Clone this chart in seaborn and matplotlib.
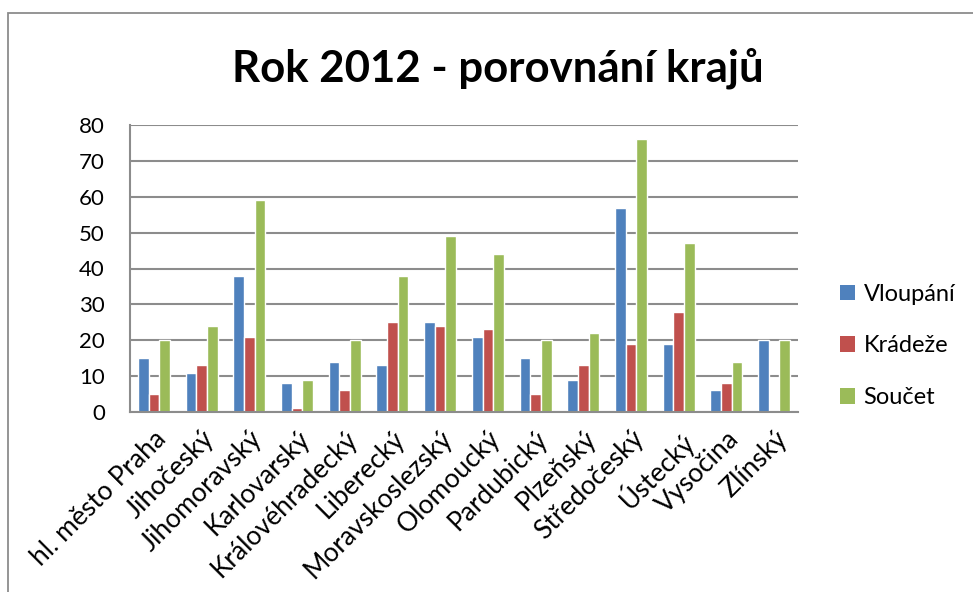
import matplotlib
matplotlib.use("Agg")
import matplotlib.pyplot as plt
import seaborn as sns
import pandas as pd
from matplotlib.patches import Rectangle, Patch

regions = ["hl. město Praha", "Jihočeský", "Jihomoravský", "Karlovarský",
           "Královéhradecký", "Liberecký", "Moravskoslezský", "Olomoucký",
           "Pardubický", "Plzeňský", "Středočeský", "Ústecký", "Vysočina", "Zlínský"]
vloupani = [15, 11, 38, 8, 14, 13, 25, 21, 15, 9, 57, 19, 6, 20]
kradeze = [5, 13, 21, 1, 6, 25, 24, 23, 5, 13, 19, 28, 8, 0]
soucet = [20, 24, 59, 9, 20, 38, 49, 44, 20, 22, 76, 47, 14, 20]
series_names = ["Vloupání", "Krádeže", "Součet"]
colors = ["#4F81BD", "#C0504D", "#9BBB59"]
y_ticks = [0, 10, 20, 30, 40, 50, 60, 70, 80]

df = pd.concat([
    pd.DataFrame({"kraj": regions, "serie": name, "hodnota": vals})
    for name, vals in zip(series_names, [vloupani, kradeze, soucet])
])

sns.set_theme(style="white")
plt.rcParams["font.family"] = ["Lato", "DejaVu Sans"]

fig = plt.figure(figsize=(9.73, 5.92), dpi=100)
fig.patch.set_facecolor("white")

# chart frame
fig.patches.append(Rectangle((8 / 973, -0.05), 1.2, 1 - 13 / 592 + 0.05,
                             transform=fig.transFigure, fill=False,
                             edgecolor="#8c8c8c", linewidth=1.3))

ax = fig.add_axes([130 / 973, 1 - 412 / 592, 668 / 973, 287 / 592])
sns.barplot(data=df, x="kraj", y="hodnota", hue="serie", palette=colors,
            width=0.67, saturation=1, ax=ax, legend=False)

ax.set_ylim(0, 80)
ax.set_yticks(y_ticks)
ax.set_yticklabels([str(t) for t in y_ticks], fontsize=16, color="black")
ax.yaxis.grid(True, color="#8c8c8c", linewidth=1.5)
ax.set_axisbelow(True)
ax.set_xlabel("")
ax.set_ylabel("")
for side in ["top", "right"]:
    ax.spines[side].set_visible(False)
for side in ["left", "bottom"]:
    ax.spines[side].set_color("#8c8c8c")
    ax.spines[side].set_linewidth(1.5)
ax.tick_params(axis="y", length=0, pad=18)
ax.tick_params(axis="x", length=0, pad=10)
ax.set_xticks(range(len(regions)))
ax.set_xticklabels(regions, rotation=45, ha="right", va="top",
                   rotation_mode="anchor", fontsize=19, color="black")

fig.text(498 / 973, 1 - 68 / 592, "Rok 2012 - porovnání krajů", ha="center",
         va="center", fontsize=31.5, fontweight="bold", color="black")

handles = [Patch(facecolor=c, edgecolor="none") for c in colors]
fig.legend(handles, series_names, loc="center left",
           bbox_to_anchor=(840 / 973, 1 - 346 / 592), frameon=False,
           borderpad=0, borderaxespad=0,
           fontsize=17, handlelength=0.65, handleheight=0.65,
           handletextpad=0.35, labelspacing=1.3, labelcolor="black")

fig.savefig("out.png", dpi=100, facecolor="white")
